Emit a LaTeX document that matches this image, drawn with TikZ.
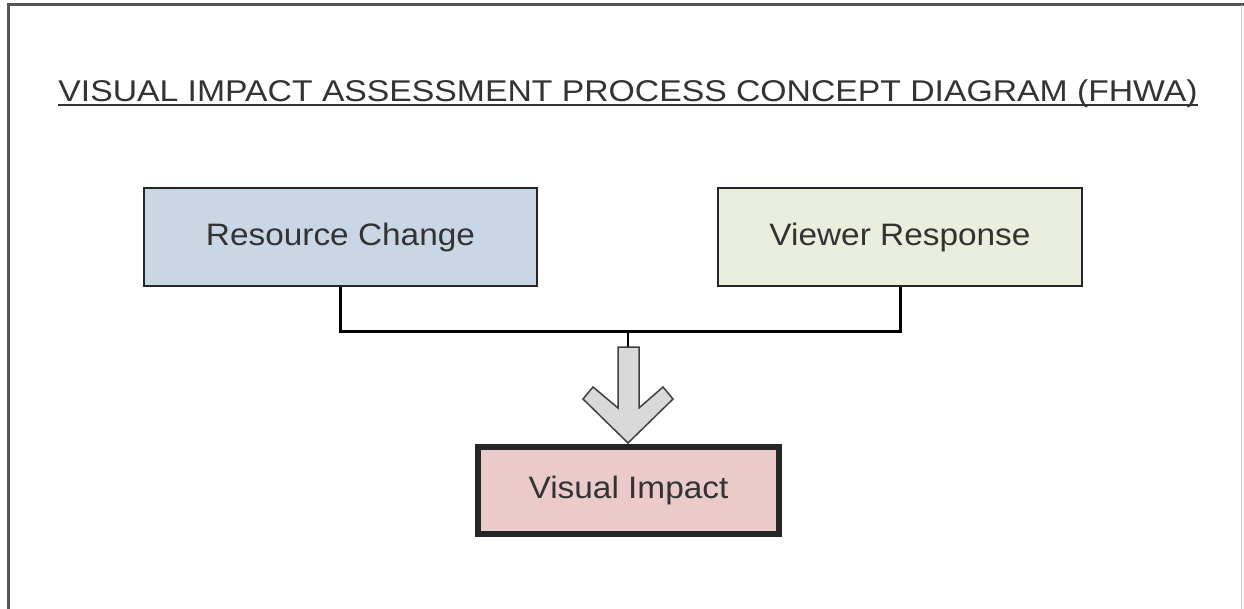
\documentclass[tikz,border=0pt]{standalone}
\usepackage{fontspec}
\setmainfont{Liberation Sans}
\definecolor{txt}{HTML}{333333}
\definecolor{rcfill}{HTML}{C9D6E5}
\definecolor{vrfill}{HTML}{EAEEDD}
\definecolor{vifill}{HTML}{EBCACA}
\definecolor{arrfill}{HTML}{D9D9D9}
\definecolor{frame}{HTML}{555555}
\newcommand{\wtxt}[1]{\scalebox{1.077}[1]{#1}}
\begin{document}
\begin{tikzpicture}[x=1pt,y=-1pt,
  box/.style={draw=black!85, line width=2pt, inner sep=0pt, text=txt,
    font=\fontsize{31}{31}\selectfont},
  link/.style={draw=black, line width=3pt}]
\useasboundingbox (0,0) rectangle (1244,609);
\fill[white] (0,0) rectangle (1244,609);
% frame
\draw[frame, line width=3pt] (8,609) -- (8,5) -- (1244,5);
\draw[black!20, line width=1pt] (1241,5) -- (1241,609);
% title
\node[anchor=base, text=txt, font=\fontsize{30}{30}\selectfont, inner sep=0pt] (title) at (628,102)
  {\scalebox{1.124}[1]{VISUAL IMPACT ASSESSMENT PROCESS CONCEPT DIAGRAM (FHWA)}};
\draw[txt, line width=2pt] ([yshift=-3pt]title.base west) -- ([yshift=-3pt]title.base east);
% boxes
\node[box, fill=rcfill, minimum width=393pt, minimum height=98pt] (rc) at (340.5,237) {\wtxt{Resource Change}};
\node[box, fill=vrfill, minimum width=364pt, minimum height=98pt] (vr) at (900,237) {\wtxt{Viewer Response}};
\node[box, fill=vifill, line width=6pt, minimum width=301pt, minimum height=87pt] (vi) at (628.5,490.5) {\wtxt{Visual Impact}};
% connectors
\coordinate (j) at (628,332);
\draw[link] (rc.south) |- (j) -| (vr.south);
\coordinate (s) at (628,347);
\draw[link, line width=2.5pt] (j) -- (s);
% block arrow
\draw[fill=arrfill, draw=black!75, line width=1.5pt, line join=miter]
  (618,347) -- (639,347) -- (639,408) -- (663,387) -- (673,399) -- (628,443)
  -- (583,399) -- (593,387) -- (618,408) -- cycle;
\end{tikzpicture}
\end{document}
